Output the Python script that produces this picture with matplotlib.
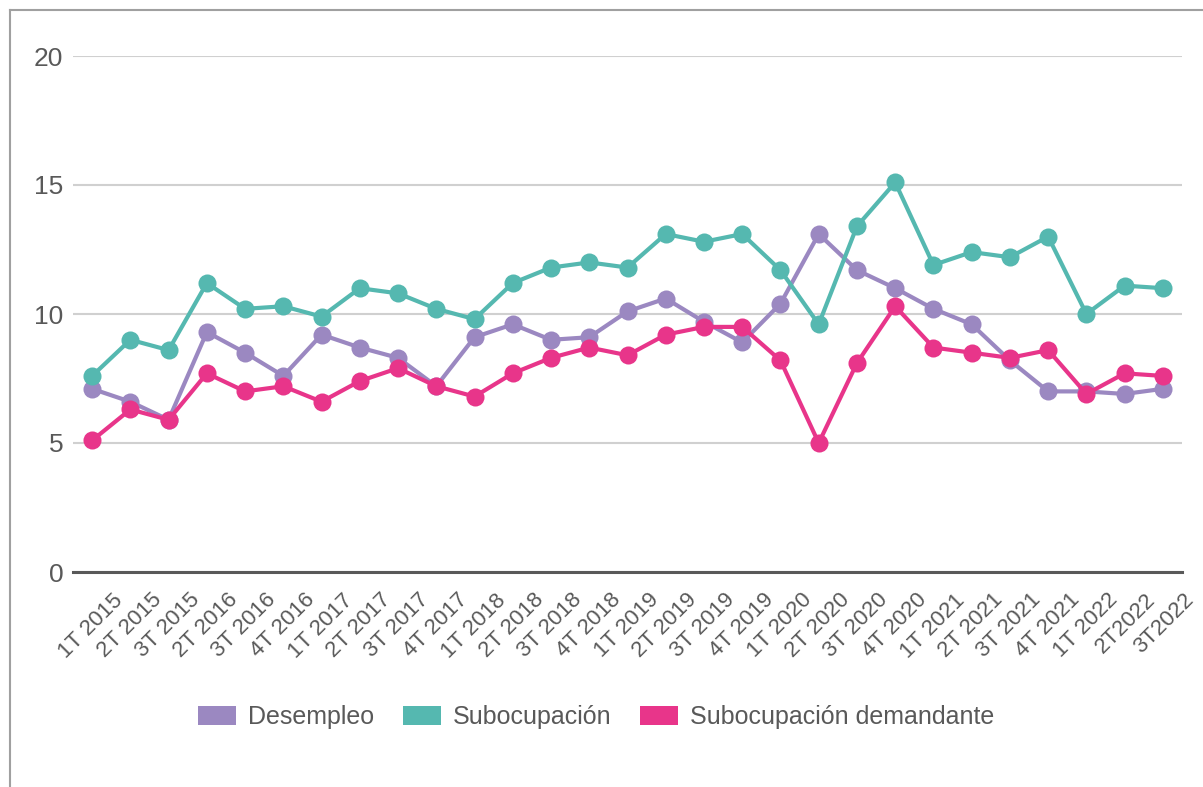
import matplotlib
matplotlib.use("Agg")
import matplotlib.pyplot as plt
from matplotlib.lines import Line2D
from matplotlib.patches import Patch
from matplotlib.transforms import ScaledTranslation

categories = ["1T 2015", "2T 2015", "3T 2015", "2T 2016", "3T 2016", "4T 2016",
              "1T 2017", "2T 2017", "3T 2017", "4T 2017", "1T 2018", "2T 2018",
              "3T 2018", "4T 2018", "1T 2019", "2T 2019", "3T 2019", "4T 2019",
              "1T 2020", "2T 2020", "3T 2020", "4T 2020", "1T 2021", "2T 2021",
              "3T 2021", "4T 2021", "1T 2022", "2T2022", "3T2022"]

desempleo = [7.1, 6.6, 5.9, 9.3, 8.5, 7.6, 9.2, 8.7, 8.3, 7.2, 9.1, 9.6, 9.0, 9.1,
             10.1, 10.6, 9.7, 8.9, 10.4, 13.1, 11.7, 11.0, 10.2, 9.6, 8.2, 7.0,
             7.0, 6.9, 7.1]
subocupacion = [7.6, 9.0, 8.6, 11.2, 10.2, 10.3, 9.9, 11.0, 10.8, 10.2, 9.8, 11.2,
                11.8, 12.0, 11.8, 13.1, 12.8, 13.1, 11.7, 9.6, 13.4, 15.1, 11.9,
                12.4, 12.2, 13.0, 10.0, 11.1, 11.0]
demandante = [5.1, 6.3, 5.9, 7.7, 7.0, 7.2, 6.6, 7.4, 7.9, 7.2, 6.8, 7.7, 8.3, 8.7,
              8.4, 9.2, 9.5, 9.5, 8.2, 5.0, 8.1, 10.3, 8.7, 8.5, 8.3, 8.6, 6.9,
              7.7, 7.6]

series_names = ["Desempleo", "Subocupación", "Subocupación demandante"]
colors = ["#9B88C1", "#55B8B0", "#E8358A"]
yticks = [0, 5, 10, 15, 20]

plt.rcParams['font.family'] = ['Liberation Sans', 'DejaVu Sans']
text_color = "#595959"

W, H = 1203, 787
fig = plt.figure(figsize=(W / 100, H / 100), dpi=100)
left, right, top, bottom = 73, 1182, 56, 572
ax = fig.add_axes([left / W, 1 - bottom / H, (right - left) / W, (bottom - top) / H])

x = list(range(len(categories)))
for vals, name, col in zip([desempleo, subocupacion, demandante], series_names, colors):
    ax.plot(x, vals, color=col, lw=3, marker='o', markersize=13,
            markeredgewidth=0, label=name, clip_on=False, zorder=3)

ax.set_xlim(-0.5, len(categories) - 0.5)
ax.set_ylim(0, 20)
ax.set_yticks(yticks)
ax.set_yticklabels([str(v) for v in yticks])
ax.grid(axis='y', color='#D0D0D0', lw=1.5)
ax.set_axisbelow(True)
for s in ['top', 'right', 'left']:
    ax.spines[s].set_visible(False)
ax.spines['bottom'].set_color('#595959')
ax.spines['bottom'].set_linewidth(2.2)
ax.spines['bottom'].set_zorder(2)

ax.tick_params(axis='y', length=0, pad=7, labelsize=19, labelcolor=text_color)
ax.tick_params(axis='x', length=0, pad=18, labelsize=16, labelcolor=text_color)
ax.set_xticks(x)
ax.set_xticklabels(categories, rotation=45, ha='right', va='center',
                   rotation_mode='anchor')
off = ScaledTranslation(28 / 100, 0, fig.dpi_scale_trans)
for lab in ax.get_xticklabels():
    lab.set_transform(lab.get_transform() + off)

handles = [Patch(facecolor=c, edgecolor='none') for c in colors]
fig.legend(handles, series_names, loc='center', ncol=3,
           bbox_to_anchor=(596 / W, 1 - 717 / H), frameon=False,
           fontsize=18, labelcolor=text_color, handlelength=1.52,
           handleheight=0.76, handletextpad=0.48, columnspacing=1.15)

# outer frame (partially visible)
fig.add_artist(Line2D([10 / W, 10 / W], [0, 1 - 10 / H], color='#A0A0A0', lw=1.5,
                      transform=fig.transFigure))
fig.add_artist(Line2D([10 / W, 1], [1 - 10 / H, 1 - 10 / H], color='#A0A0A0', lw=1.5,
                      transform=fig.transFigure))

fig.savefig("out.png", dpi=100)
